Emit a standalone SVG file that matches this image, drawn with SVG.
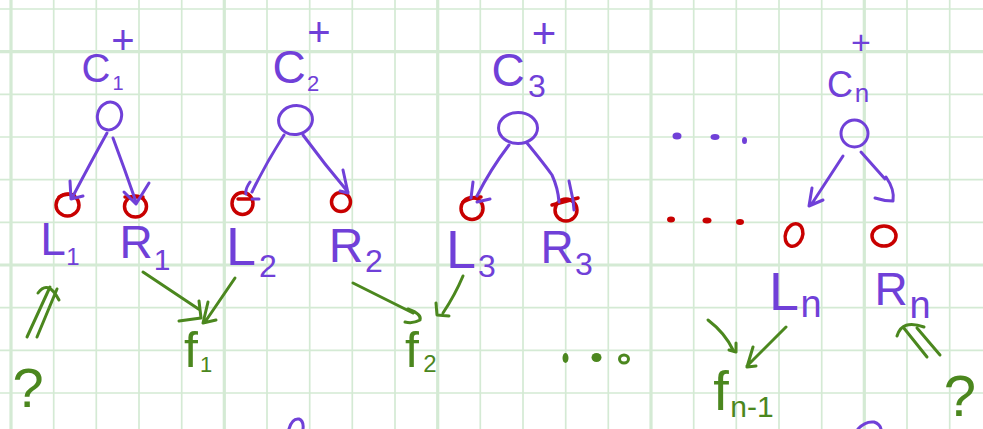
<svg xmlns="http://www.w3.org/2000/svg" width="983" height="429" viewBox="0 0 983 429">
<style>
.grid{stroke:#d4ead4;stroke-width:1.7;fill:none}
.gridM{stroke:#d4ead4;stroke-width:3.2;fill:none}
.pu{stroke:#7040d8;stroke-width:3;fill:none;stroke-linecap:round;stroke-linejoin:round}
.rd{stroke:#c80000;stroke-width:3.5;fill:none;stroke-linecap:round;stroke-linejoin:round}
.gr{stroke:#4b871e;stroke-width:3;fill:none;stroke-linecap:round;stroke-linejoin:round}
.tp{fill:#7040d8;font-family:"Liberation Sans",Arial,sans-serif;text-anchor:middle}
.tg{fill:#4b871e;font-family:"Liberation Sans",Arial,sans-serif;text-anchor:middle}
.dp{fill:#7040d8}
.dr{fill:#c80000}
.dg{fill:#4b871e}
</style>
<rect width="983" height="429" fill="#ffffff"/>
<g id="grid">
<path class="grid" d="M53.7,0V429M96.3,0V429M139,0V429M181.7,0V429M267,0V429M309.7,0V429M352.3,0V429M395,0V429M480.3,0V429M523,0V429M565.7,0V429M608.3,0V429M693.7,0V429M736.3,0V429M779,0V429M821.7,0V429M907,0V429M949.7,0V429M0,9H983M0,94.3H983M0,137H983M0,179.7H983M0,222.3H983M0,307.7H983M0,350.3H983M0,393H983"/>
<path class="gridM" d="M11,0V429M224.3,0V429M437.7,0V429M651,0V429M864.3,0V429M0,51.7H983M0,265H983"/>
</g>
<g id="c1">
<text class="tp"><tspan x="123" y="54" font-size="40">+</tspan><tspan x="96" y="82" font-size="40">C</tspan><tspan x="118" y="90" font-size="20">1</tspan></text>
<ellipse class="pu" cx="109.5" cy="116" rx="12" ry="14" transform="rotate(15 109.5 116)"/>
</g>
<g id="c2">
<text class="tp"><tspan x="319" y="46" font-size="40">+</tspan><tspan x="289" y="83" font-size="46">C</tspan><tspan x="313" y="91" font-size="22">2</tspan></text>
<ellipse class="pu" cx="295.5" cy="120" rx="17" ry="14.5" transform="rotate(-10 295.5 120)"/>
</g>
<g id="c3">
<text class="tp"><tspan x="544" y="48" font-size="42">+</tspan><tspan x="508" y="86" font-size="46">C</tspan><tspan x="537" y="97" font-size="32">3</tspan></text>
<ellipse class="pu" cx="518" cy="128" rx="19.5" ry="15.5"/>
</g>
<g id="cn">
<text class="tp"><tspan x="861" y="54" font-size="34">+</tspan><tspan x="840" y="97" font-size="36">C</tspan><tspan x="862" y="102" font-size="26">n</tspan></text>
<ellipse class="pu" cx="854.5" cy="133.5" rx="13.5" ry="13.5"/>
</g>
<g id="l1">
<ellipse class="rd" cx="67.5" cy="205" rx="11.5" ry="11"/>
<path class="rd" d="M59,197 Q66,193 74,195"/>
<text class="tp"><tspan x="53" y="255" font-size="46">L</tspan><tspan x="73" y="265" font-size="24">1</tspan></text>
</g>
<g id="r1">
<ellipse class="rd" cx="135.5" cy="206.5" rx="11" ry="10.5"/>
<path class="rd" d="M125,197 L143,197"/>
<text class="tp"><tspan x="136" y="258" font-size="46">R</tspan><tspan x="162" y="270" font-size="30">1</tspan></text>
</g>
<g id="l2">
<ellipse class="rd" cx="242.5" cy="203.5" rx="10.5" ry="11"/>
<path class="rd" d="M238,199 L252,199"/>
<text class="tp"><tspan x="241" y="265" font-size="54">L</tspan><tspan x="268" y="277" font-size="32">2</tspan></text>
</g>
<g id="r2">
<ellipse class="rd" cx="341" cy="202" rx="9.5" ry="9.5"/>
<text class="tp"><tspan x="346" y="262" font-size="48">R</tspan><tspan x="374" y="272" font-size="32">2</tspan></text>
</g>
<g id="l3">
<ellipse class="rd" cx="472" cy="208.5" rx="11" ry="11"/>
<path class="rd" d="M463,202 Q472,197 481,197"/>
<text class="tp"><tspan x="461" y="268" font-size="54">L</tspan><tspan x="487" y="277" font-size="32">3</tspan></text>
</g>
<g id="r3">
<ellipse class="rd" cx="566" cy="210" rx="11" ry="11"/>
<path class="rd" d="M552,205 L578,198"/>
<text class="tp"><tspan x="557" y="263" font-size="46">R</tspan><tspan x="584" y="275" font-size="32">3</tspan></text>
</g>
<g id="ln">
<ellipse class="rd" cx="794" cy="235" rx="8.5" ry="11.5" transform="rotate(20 794 235)"/>
<text class="tp"><tspan x="784" y="310" font-size="54">L</tspan><tspan x="811" y="317" font-size="38">n</tspan></text>
</g>
<g id="rn">
<ellipse class="rd" cx="884" cy="236" rx="12" ry="10"/>
<text class="tp"><tspan x="891" y="305" font-size="46">R</tspan><tspan x="920" y="318" font-size="38">n</tspan></text>
</g>
<g id="f1">
<text class="tg"><tspan x="191" y="367" font-size="50">f</tspan><tspan x="206" y="372" font-size="22">1</tspan></text>
</g>
<g id="f2">
<text class="tg"><tspan x="412" y="367" font-size="50">f</tspan><tspan x="430" y="372" font-size="24">2</tspan></text>
</g>
<g id="fn1">
<text class="tg"><tspan x="721" y="410" font-size="56">f</tspan><tspan x="752" y="417" font-size="30">n-1</tspan></text>
</g>
<g id="q1">
<text class="tg" x="28" y="407" font-size="56">?</text>
</g>
<g id="q2">
<text class="tg" x="960" y="416" font-size="58">?</text>
</g>
<g id="dots">
<ellipse class="dp" cx="677" cy="136" rx="4.5" ry="3.5"/>
<ellipse class="dp" cx="715" cy="137" rx="4.5" ry="3"/>
<ellipse class="dp" cx="744.5" cy="140.5" rx="2.5" ry="3.5"/>
<ellipse class="dr" cx="671" cy="219.5" rx="4" ry="3"/>
<ellipse class="dr" cx="707" cy="220.5" rx="4.5" ry="3"/>
<ellipse class="dr" cx="740" cy="222" rx="4" ry="3"/>
<ellipse class="dg" cx="565.5" cy="358" rx="3" ry="5"/>
<ellipse class="dg" cx="596.5" cy="357.5" rx="5" ry="4.5"/>
<ellipse class="gr" cx="624" cy="359" rx="4.5" ry="4" stroke-width="2.5"/>
</g>
<g id="partial">
<path class="pu" d="M289,429 Q292,418 299,419 Q304,421 303,429"/>
<path class="pu" d="M858,429 Q865,421 874,422 Q880,424 881,429"/>
</g>
<g id="connectors">
<path class="pu" d="M107,133 Q92,160 72,198 M70,181 L71,199 L83,196"/>
<path class="pu" d="M113,138 Q125,170 136,202 M124,192 L136,204 L149,183"/>
<path class="pu" d="M284,135 Q266,163 252,192 M250,182 Q245,189 246,194 M252,199 L259,199"/>
<path class="pu" d="M303,135 Q325,165 348,192 M343,170 L348,193 L340,191"/>
<path class="pu" d="M509,145 Q490,170 477,196 M473,182 L471,198 M477,202 L490,199"/>
<path class="pu" d="M527,143 Q545,165 552,175 Q558,188 559,202 M569,181 L573,200 L574,210"/>
<path class="pu" d="M843,156 L811,205 M812,188 L809,206 L823,200"/>
<path class="pu" d="M861,152 L885,179 M886,177 Q895,190 893,201 Q884,201 875,198"/>
<path class="gr" d="M27,337 L50,287 M37,337 L57,289 M38,293 Q48,279 59,300"/>
<path class="gr" d="M143,272 L200,310 M199,301 L201,318 L179,321"/>
<path class="gr" d="M235,278 L205,322 M208,302 L203,323 L216,320"/>
<path class="gr" d="M353,283 L413,313 M408,309 Q422,314 420,320 Q413,324 405,322"/>
<path class="gr" d="M463,276 Q455,295 443,313 M436,303 L437,315 L449,316"/>
<path class="gr" d="M708,320 Q725,333 733,350 M729,350 L736,352 L736,343"/>
<path class="gr" d="M786,327 L747,366 M753,347 L747,367 L756,366"/>
<path class="gr" d="M927,357 L903,327 M940,355 L917,328 M897,336 Q902,319 924,327"/>
</g>
</svg>
